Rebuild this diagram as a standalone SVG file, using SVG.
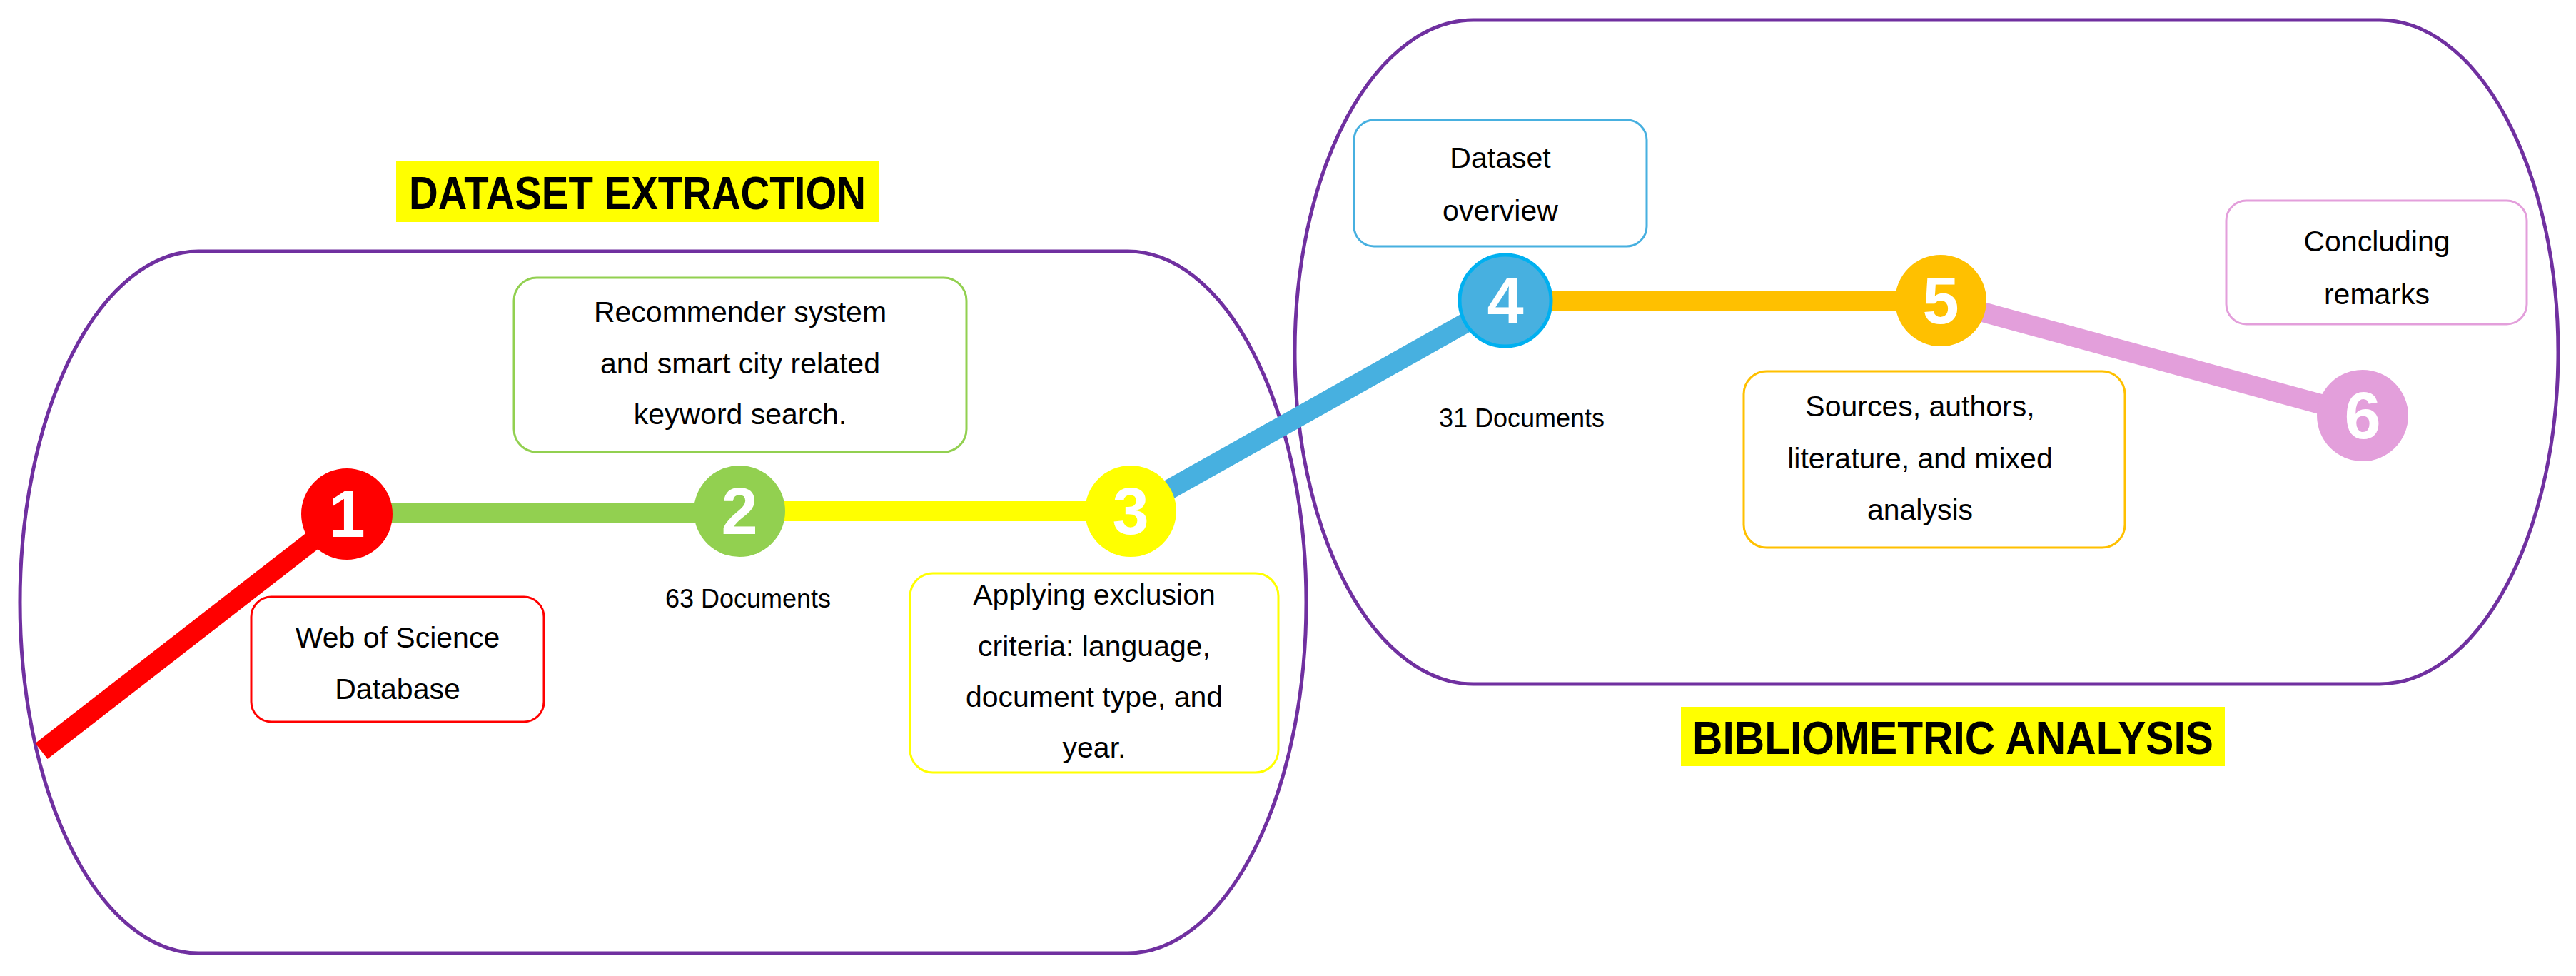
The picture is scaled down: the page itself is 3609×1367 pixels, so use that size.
<svg xmlns="http://www.w3.org/2000/svg" width="3609" height="1367" viewBox="0 0 3609 1367">
<style>
.grp{fill:none;stroke:#7030A0;stroke-width:5}
.box{fill:#fff;stroke-width:3}
.t{font-family:"Liberation Sans",Arial,sans-serif;font-size:41px;fill:#000;text-anchor:middle}
.doc{font-family:"Liberation Sans",Arial,sans-serif;font-size:36px;fill:#000;text-anchor:middle}
.num{font-family:"Liberation Sans",Arial,sans-serif;font-size:92px;font-weight:bold;fill:#fff;text-anchor:middle}
.title{font-family:"Liberation Sans",Arial,sans-serif;font-size:64px;font-weight:bold;fill:#000;text-anchor:middle}
.ln{fill:none;stroke-width:28}
</style>
<rect width="3609" height="1367" fill="#fff"/>
<g id="groups">
<rect class="grp" x="28" y="352" width="1802" height="983" rx="250" ry="491"/>
<rect class="grp" x="1814" y="28" width="1770" height="930" rx="250" ry="465"/>
</g>
<g id="titles">
<rect x="555" y="226" width="677" height="85" fill="#FFFF00"/>
<text class="title" x="893" y="293" textLength="640" lengthAdjust="spacingAndGlyphs">DATASET EXTRACTION</text>
<rect x="2355" y="990" width="762" height="83" fill="#FFFF00"/>
<text class="title" x="2736" y="1056" textLength="730" lengthAdjust="spacingAndGlyphs">BIBLIOMETRIC ANALYSIS</text>
</g>
<g id="connectors">
<line class="ln" stroke="#FF0000" x1="58" y1="1052" x2="486" y2="720"/>
<line class="ln" stroke="#92D050" x1="486" y1="718" x2="1036" y2="718"/>
<line class="ln" stroke="#FFFF00" x1="1036" y1="716" x2="1584" y2="716"/>
<line class="ln" stroke="#47B0E0" x1="1584" y1="716" x2="2109" y2="421"/>
<line class="ln" stroke="#FFC000" x1="2109" y1="421" x2="2719" y2="421"/>
<line class="ln" stroke="#E39FDB" x1="2719" y1="421" x2="3310" y2="582"/>
</g>
<g id="n1"><circle cx="486" cy="720" r="64" fill="#FF0000"/><text class="num" x="486" y="752">1</text></g>
<g id="n2"><circle cx="1036" cy="716" r="64" fill="#92D050"/><text class="num" x="1036" y="748">2</text></g>
<g id="n3"><circle cx="1584" cy="716" r="64" fill="#FFFF00"/><text class="num" x="1584" y="748">3</text></g>
<g id="n4"><circle cx="2109" cy="421" r="64" fill="#47B0E0" stroke="#00B0F0" stroke-width="5"/><text class="num" x="2109" y="453">4</text></g>
<g id="n5"><circle cx="2719" cy="421" r="64" fill="#FFC000"/><text class="num" x="2719" y="453">5</text></g>
<g id="n6"><circle cx="3310" cy="582" r="64" fill="#E39FDB"/><text class="num" x="3310" y="614">6</text></g>
<g id="b1"><rect class="box" stroke="#FF0000" x="352" y="836" width="410" height="175" rx="28"/>
<text class="t" x="557" y="907">Web of Science</text><text class="t" x="557" y="979">Database</text></g>
<g id="b2"><rect class="box" stroke="#92D050" x="720" y="389" width="634" height="244" rx="32"/>
<text class="t" x="1037" y="451">Recommender system</text><text class="t" x="1037" y="523">and smart city related</text><text class="t" x="1037" y="594">keyword search.</text></g>
<g id="d63"><text class="doc" x="1048" y="851">63 Documents</text></g>
<g id="b3"><rect class="box" stroke="#FFFF00" x="1275" y="803" width="516" height="279" rx="32"/>
<text class="t" x="1533" y="847">Applying exclusion</text><text class="t" x="1533" y="919">criteria:  language,</text><text class="t" x="1533" y="990">document type, and</text><text class="t" x="1533" y="1061">year.</text></g>
<g id="b4"><rect class="box" stroke="#47B0E0" x="1897" y="168" width="410" height="177" rx="28"/>
<text class="t" x="2102" y="235">Dataset</text><text class="t" x="2102" y="309">overview</text></g>
<g id="d31"><text class="doc" x="2132" y="598">31 Documents</text></g>
<g id="b5"><rect class="box" stroke="#FFC000" x="2443" y="520" width="534" height="247" rx="32"/>
<text class="t" x="2690" y="583">Sources, authors,</text><text class="t" x="2690" y="656">literature, and mixed</text><text class="t" x="2690" y="728">analysis</text></g>
<g id="b6"><rect class="box" stroke="#E39FDB" x="3119" y="281" width="421" height="173" rx="28"/>
<text class="t" x="3330" y="352">Concluding</text><text class="t" x="3330" y="426">remarks</text></g>
</svg>
